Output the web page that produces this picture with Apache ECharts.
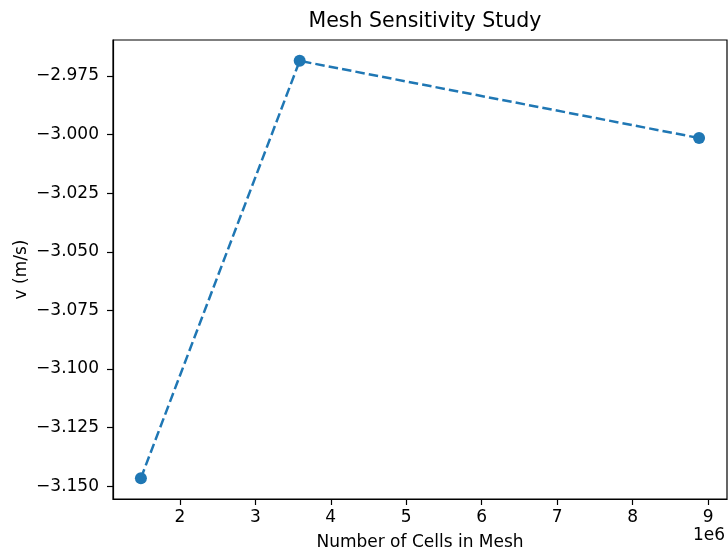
<!DOCTYPE html>
<html>
<head>
<meta charset="utf-8">
<script src="https://cdn.jsdelivr.net/npm/echarts@6/dist/echarts.min.js"></script>
<style>
  html, body { margin: 0; padding: 0; background: #fff; }
  #chart { width: 728px; height: 551px; }
</style>
</head>
<body>
<div id="chart"></div>
<script>
// mesh study data
var cells = [1.484e6, 3.588e6, 8.881e6];
var velocity = [-3.1465, -2.9686, -3.0015];
var xTicks = [2e6, 3e6, 4e6, 5e6, 6e6, 7e6, 8e6, 9e6];
var yTicks = [-3.150, -3.125, -3.100, -3.075, -3.050, -3.025, -3.000, -2.975];

var FONT = 'DejaVu Sans';
var blue = '#1f77b4';

// matplotlib style 5% margins
function padRange(arr){
	var lo = Math.min.apply(null, arr), hi = Math.max.apply(null, arr);
	var d = (hi - lo) * 0.05;
	return [lo - d, hi + d];
}
var xr = padRange(cells), yr = padRange(velocity);

var points = cells.map(function(c, i){ return [c, velocity[i]]; });

var chart = echarts.init(document.getElementById('chart'));
chart.setOption({
	animation: false,
	backgroundColor: '#fff',
	textStyle: { fontFamily: FONT },
	title: {
		text: 'Mesh Sensitivity Study',
		left: 420,
		textAlign: 'center',
		top: 6,
		textStyle: { fontFamily: FONT, fontSize: 20.5, fontWeight: 'normal', color: '#000' }
	},
	grid: {
		left: 113, right: 1, top: 40, bottom: 52,
		outerBoundsMode: 'none',
		containLabel: false,
		show: true, borderColor: '#000', borderWidth: 1.2
	},
	xAxis: {
		type: 'value',
		min: xr[0], max: xr[1],
		name: 'Number of Cells in Mesh',
		nameLocation: 'middle',
		nameGap: 35,
		nameMoveOverlap: false,
		nameTextStyle: { fontFamily: FONT, fontSize: 17, color: '#000' },
		splitLine: { show: false },
		axisLine: { lineStyle: { color: '#000', width: 1.2 } },
		axisTick: { show: true, length: 6, customValues: xTicks, lineStyle: { color: '#000', width: 1.2 } },
		axisLabel: {
			customValues: xTicks,
			margin: 10,
			fontFamily: FONT, fontSize: 17, color: '#000',
			formatter: function(v){ return String(Math.round(v / 1e6)); }
		}
	},
	yAxis: {
		type: 'value',
		min: yr[0], max: yr[1],
		name: 'v (m/s)',
		nameLocation: 'middle',
		nameRotate: 90,
		nameGap: 83,
		nameMoveOverlap: false,
		nameTextStyle: { fontFamily: FONT, fontSize: 17, color: '#000' },
		splitLine: { show: false },
		axisLine: { show: true, lineStyle: { color: '#000', width: 1.2 } },
		axisTick: { show: true, length: 6, customValues: yTicks, lineStyle: { color: '#000', width: 1.2 } },
		axisLabel: {
			customValues: yTicks,
			margin: 14,
			fontFamily: FONT, fontSize: 17, color: '#000',
			formatter: function(v){ return v.toFixed(3).replace('-', '\u2212'); }
		}
	},
	graphic: [{
		type: 'text',
		right: 3,
		top: 527,
		style: { text: '1e6', font: '17px "DejaVu Sans"', fill: '#000' }
	}],
	series: [{
		type: 'line',
		data: points,
		symbol: 'circle',
		symbolSize: 12,
		itemStyle: { color: blue },
		lineStyle: { color: blue, width: 2.5, type: [9.5, 4.1] }
	}]
});
</script>
</body>
</html>
